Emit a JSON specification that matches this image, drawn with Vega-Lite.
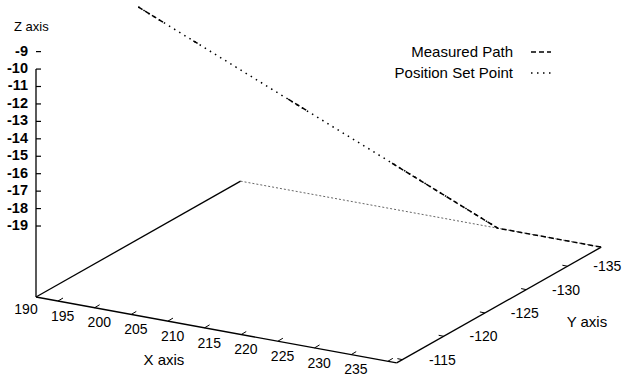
{
  "$schema": "https://vega.github.io/schema/vega-lite/v6.json",
  "width": 624,
  "height": 376,
  "autosize": {"type": "none"},
  "padding": 0,
  "background": "white",
  "config": {"view": {"stroke": null}, "font": "Liberation Sans"},
  "datasets": {
    "frame": [
      {"edge": "front", "X": 187, "Y": -114.3, "Z": -23.07, "X2": 236.2, "Y2": -114.3, "Z2": -23.07},
      {"edge": "right", "X": 236.2, "Y": -114.3, "Z": -23.07, "X2": 236.2, "Y2": -139.1, "Z2": -23.07},
      {"edge": "left", "X": 187, "Y": -114.3, "Z": -23.07, "X2": 187, "Y2": -139.1, "Z2": -23.07},
      {"edge": "zaxis", "X": 187, "Y": -114.3, "Z": -23.07, "X2": 187, "Y2": -114.3, "Z2": -10},
      {"edge": "back", "X": 187, "Y": -139.1, "Z": -23.07, "X2": 236.2, "Y2": -139.1, "Z2": -23.07}
    ],
    "measured": [
      {"series": "Measured Path", "run": 1, "X": 187.0, "Y": -126.7, "Z": -9.76},
      {"series": "Measured Path", "run": 1, "X": 189.42, "Y": -127.56, "Z": -10.68},
      {"series": "Measured Path", "run": 2, "X": 192.37, "Y": -128.6, "Z": -11.8},
      {"series": "Measured Path", "run": 2, "X": 193.04, "Y": -128.83, "Z": -12.05},
      {"series": "Measured Path", "run": 3, "X": 201.64, "Y": -131.87, "Z": -15.31},
      {"series": "Measured Path", "run": 3, "X": 203.46, "Y": -132.52, "Z": -16.0},
      {"series": "Measured Path", "run": 4, "X": 211.78, "Y": -135.45, "Z": -19.16},
      {"series": "Measured Path", "run": 4, "X": 222.1, "Y": -139.1, "Z": -23.07},
      {"series": "Measured Path", "run": 4, "X": 236.2, "Y": -139.1, "Z": -23.07}
    ],
    "setpoint": [
      {"series": "Position Set Point", "X": 187.0, "Y": -126.7, "Z": -9.76},
      {"series": "Position Set Point", "X": 195.78, "Y": -129.8, "Z": -13.09},
      {"series": "Position Set Point", "X": 204.55, "Y": -132.9, "Z": -16.42},
      {"series": "Position Set Point", "X": 213.33, "Y": -136.0, "Z": -19.74},
      {"series": "Position Set Point", "X": 222.1, "Y": -139.1, "Z": -23.07}
    ],
    "xticks": [{"X": 190}, {"X": 195}, {"X": 200}, {"X": 205}, {"X": 210}, {"X": 215}, {"X": 220}, {"X": 225}, {"X": 230}, {"X": 235}],
    "yticks": [{"Y": -115}, {"Y": -120}, {"Y": -125}, {"Y": -130}, {"Y": -135}],
    "zticks": [{"Z": -9}, {"Z": -10}, {"Z": -11}, {"Z": -12}, {"Z": -13}, {"Z": -14}, {"Z": -15}, {"Z": -16}, {"Z": -17}, {"Z": -18}, {"Z": -19}]
  },
  "layer": [
    {
      "data": {"name": "frame"},
      "transform": [
        {"filter": "datum.edge != 'back'"},
        {"calculate": "36 + (datum.X-187)*7.33 - (datum.Y+114.3)*8.25", "as": "sx"},
        {"calculate": "297 + (datum.X-187)*1.34 + (datum.Y+114.3)*4.67 - (datum.Z+23.07)*17.44", "as": "sy"},
        {"calculate": "36 + (datum.X2-187)*7.33 - (datum.Y2+114.3)*8.25", "as": "sx2"},
        {"calculate": "297 + (datum.X2-187)*1.34 + (datum.Y2+114.3)*4.67 - (datum.Z2+23.07)*17.44", "as": "sy2"}
      ],
      "mark": {"type": "rule", "color": "black", "strokeWidth": 1.3},
      "encoding": {
        "x": {"field": "sx", "type": "quantitative", "scale": {"domain": [0, 624], "nice": false, "zero": false}, "axis": null},
        "y": {"field": "sy", "type": "quantitative", "scale": {"domain": [0, 376], "reverse": true, "nice": false, "zero": false}, "axis": null},
        "x2": {"field": "sx2"},
        "y2": {"field": "sy2"},
        "strokeWidth": {"condition": {"test": "datum.edge == 'zaxis'", "value": 2}, "value": 1.2}
      }
    },
    {
      "data": {"name": "frame"},
      "transform": [
        {"filter": "datum.edge == 'back'"},
        {"calculate": "36 + (datum.X-187)*7.33 - (datum.Y+114.3)*8.25", "as": "sx"},
        {"calculate": "297 + (datum.X-187)*1.34 + (datum.Y+114.3)*4.67 - (datum.Z+23.07)*17.44", "as": "sy"},
        {"calculate": "36 + (datum.X2-187)*7.33 - (datum.Y2+114.3)*8.25", "as": "sx2"},
        {"calculate": "297 + (datum.X2-187)*1.34 + (datum.Y2+114.3)*4.67 - (datum.Z2+23.07)*17.44", "as": "sy2"}
      ],
      "mark": {"type": "rule", "color": "#666666", "strokeWidth": 1, "strokeDash": [2, 2]},
      "encoding": {
        "x": {"field": "sx", "type": "quantitative", "axis": null},
        "y": {"field": "sy", "type": "quantitative", "axis": null},
        "x2": {"field": "sx2"},
        "y2": {"field": "sy2"}
      }
    },
    {
      "data": {"name": "xticks"},
      "transform": [
        {"calculate": "36 + (datum.X-187)*7.33", "as": "sx"},
        {"calculate": "297 + (datum.X-187)*1.34", "as": "sy"}
      ],
      "mark": {"type": "rule", "color": "black", "strokeWidth": 1, "x2Offset": 5, "y2Offset": -3},
      "encoding": {
        "x": {"field": "sx", "type": "quantitative", "axis": null},
        "y": {"field": "sy", "type": "quantitative", "axis": null},
        "x2": {"field": "sx"},
        "y2": {"field": "sy"}
      }
    },
    {
      "data": {"name": "xticks"},
      "transform": [
        {"calculate": "36 + (datum.X-187)*7.33", "as": "sx"},
        {"calculate": "297 + (datum.X-187)*1.34", "as": "sy"},
        {"calculate": "'' + datum.X", "as": "lab"}
      ],
      "mark": {"type": "text", "fontSize": 14, "align": "center", "baseline": "middle", "dx": -32, "dy": 9, "color": "black"},
      "encoding": {
        "x": {"field": "sx", "type": "quantitative", "axis": null},
        "y": {"field": "sy", "type": "quantitative", "axis": null},
        "text": {"field": "lab"}
      }
    },
    {
      "data": {"name": "yticks"},
      "transform": [
        {"calculate": "396.6 - (datum.Y+114.3)*8.25", "as": "sx"},
        {"calculate": "362.9 + (datum.Y+114.3)*4.67", "as": "sy"}
      ],
      "mark": {"type": "rule", "color": "black", "strokeWidth": 1, "x2Offset": -5, "y2Offset": -1},
      "encoding": {
        "x": {"field": "sx", "type": "quantitative", "axis": null},
        "y": {"field": "sy", "type": "quantitative", "axis": null},
        "x2": {"field": "sx"},
        "y2": {"field": "sy"}
      }
    },
    {
      "data": {"name": "yticks"},
      "transform": [
        {"calculate": "396.6 - (datum.Y+114.3)*8.25", "as": "sx"},
        {"calculate": "362.9 + (datum.Y+114.3)*4.67", "as": "sy"},
        {"calculate": "'' + datum.Y", "as": "lab"}
      ],
      "mark": {"type": "text", "fontSize": 14, "align": "center", "baseline": "middle", "dx": 40, "dy": 1, "color": "black"},
      "encoding": {
        "x": {"field": "sx", "type": "quantitative", "axis": null},
        "y": {"field": "sy", "type": "quantitative", "axis": null},
        "text": {"field": "lab"}
      }
    },
    {
      "data": {"name": "zticks"},
      "transform": [
        {"calculate": "36", "as": "sx"},
        {"calculate": "297 - (datum.Z+23.07)*17.44", "as": "sy"}
      ],
      "mark": {"type": "rule", "color": "black", "strokeWidth": 1.2, "x2Offset": 5},
      "encoding": {
        "x": {"field": "sx", "type": "quantitative", "axis": null},
        "y": {"field": "sy", "type": "quantitative", "axis": null},
        "x2": {"field": "sx"},
        "y2": {"field": "sy"}
      }
    },
    {
      "data": {"name": "zticks"},
      "transform": [
        {"calculate": "36", "as": "sx"},
        {"calculate": "297 - (datum.Z+23.07)*17.44", "as": "sy"},
        {"calculate": "'' + datum.Z", "as": "lab"}
      ],
      "mark": {"type": "text", "fontSize": 14.5, "fontWeight": "bold", "align": "right", "baseline": "middle", "dx": -8, "color": "black"},
      "encoding": {
        "x": {"field": "sx", "type": "quantitative", "axis": null},
        "y": {"field": "sy", "type": "quantitative", "axis": null},
        "text": {"field": "lab"}
      }
    },
    {
      "data": {"values": [{"title": "Z  axis", "X": 187, "Y": -114.3, "Z": -7.6}]},
      "transform": [
        {"calculate": "36 + (datum.X-187)*7.33 - (datum.Y+114.3)*8.25", "as": "sx"},
        {"calculate": "297 + (datum.X-187)*1.34 + (datum.Y+114.3)*4.67 - (datum.Z+23.07)*17.44", "as": "sy"}
      ],
      "mark": {"type": "text", "fontSize": 13, "align": "left", "baseline": "middle", "dx": -22, "color": "black"},
      "encoding": {
        "x": {"field": "sx", "type": "quantitative", "axis": null},
        "y": {"field": "sy", "type": "quantitative", "axis": null},
        "text": {"field": "title"}
      }
    },
    {
      "data": {"values": [{"title": "X axis", "X": 205, "Y": -114.3, "Z": -23.07}]},
      "transform": [
        {"calculate": "36 + (datum.X-187)*7.33 - (datum.Y+114.3)*8.25", "as": "sx"},
        {"calculate": "297 + (datum.X-187)*1.34 + (datum.Y+114.3)*4.67 - (datum.Z+23.07)*17.44", "as": "sy"}
      ],
      "mark": {"type": "text", "fontSize": 15, "align": "center", "baseline": "middle", "dx": -4, "dy": 39, "color": "black"},
      "encoding": {
        "x": {"field": "sx", "type": "quantitative", "axis": null},
        "y": {"field": "sy", "type": "quantitative", "axis": null},
        "text": {"field": "title"}
      }
    },
    {
      "data": {"values": [{"title": "Y axis", "X": 236.2, "Y": -125, "Z": -23.07}]},
      "transform": [
        {"calculate": "36 + (datum.X-187)*7.33 - (datum.Y+114.3)*8.25", "as": "sx"},
        {"calculate": "297 + (datum.X-187)*1.34 + (datum.Y+114.3)*4.67 - (datum.Z+23.07)*17.44", "as": "sy"}
      ],
      "mark": {"type": "text", "fontSize": 15, "align": "center", "baseline": "middle", "dx": 102, "dy": 9, "color": "black"},
      "encoding": {
        "x": {"field": "sx", "type": "quantitative", "axis": null},
        "y": {"field": "sy", "type": "quantitative", "axis": null},
        "text": {"field": "title"}
      }
    },
    {
      "data": {"name": "setpoint"},
      "transform": [
        {"calculate": "36 + (datum.X-187)*7.33 - (datum.Y+114.3)*8.25", "as": "sx"},
        {"calculate": "297 + (datum.X-187)*1.34 + (datum.Y+114.3)*4.67 - (datum.Z+23.07)*17.44", "as": "sy"}
      ],
      "mark": {"type": "line", "color": "black", "strokeWidth": 1.5},
      "encoding": {
        "x": {"field": "sx", "type": "quantitative", "axis": null},
        "y": {"field": "sy", "type": "quantitative", "axis": null},
        "strokeDash": {
          "field": "series", "type": "nominal",
          "scale": {"domain": ["Measured Path", "Position Set Point"], "range": [[5, 3], [1.5, 4.5]]},
          "legend": {"orient": "none", "legendX": 530, "legendY": 41, "title": null, "padding": 0,
            "symbolType": "stroke", "symbolSize": 400, "symbolStrokeColor": "black", "symbolStrokeWidth": 1.5,
            "labelAlign": "right", "labelOffset": -39, "labelFontSize": 15, "labelFont": "Liberation Sans", "labelColor": "black", "rowPadding": 2}
        }
      }
    },
    {
      "data": {"name": "measured"},
      "transform": [
        {"calculate": "36 + (datum.X-187)*7.33 - (datum.Y+114.3)*8.25", "as": "sx"},
        {"calculate": "297 + (datum.X-187)*1.34 + (datum.Y+114.3)*4.67 - (datum.Z+23.07)*17.44", "as": "sy"}
      ],
      "mark": {"type": "line", "color": "black", "strokeWidth": 1.5},
      "encoding": {
        "x": {"field": "sx", "type": "quantitative", "axis": null},
        "y": {"field": "sy", "type": "quantitative", "axis": null},
        "detail": {"field": "run", "type": "nominal"},
        "strokeDash": {
          "field": "series", "type": "nominal",
          "scale": {"domain": ["Measured Path", "Position Set Point"], "range": [[5, 3], [1.5, 4.5]]},
          "legend": {"orient": "none", "legendX": 530, "legendY": 41, "title": null, "padding": 0,
            "symbolType": "stroke", "symbolSize": 400, "symbolStrokeColor": "black", "symbolStrokeWidth": 1.5,
            "labelAlign": "right", "labelOffset": -39, "labelFontSize": 15, "labelFont": "Liberation Sans", "labelColor": "black", "rowPadding": 2}
        }
      }
    }
  ]
}
